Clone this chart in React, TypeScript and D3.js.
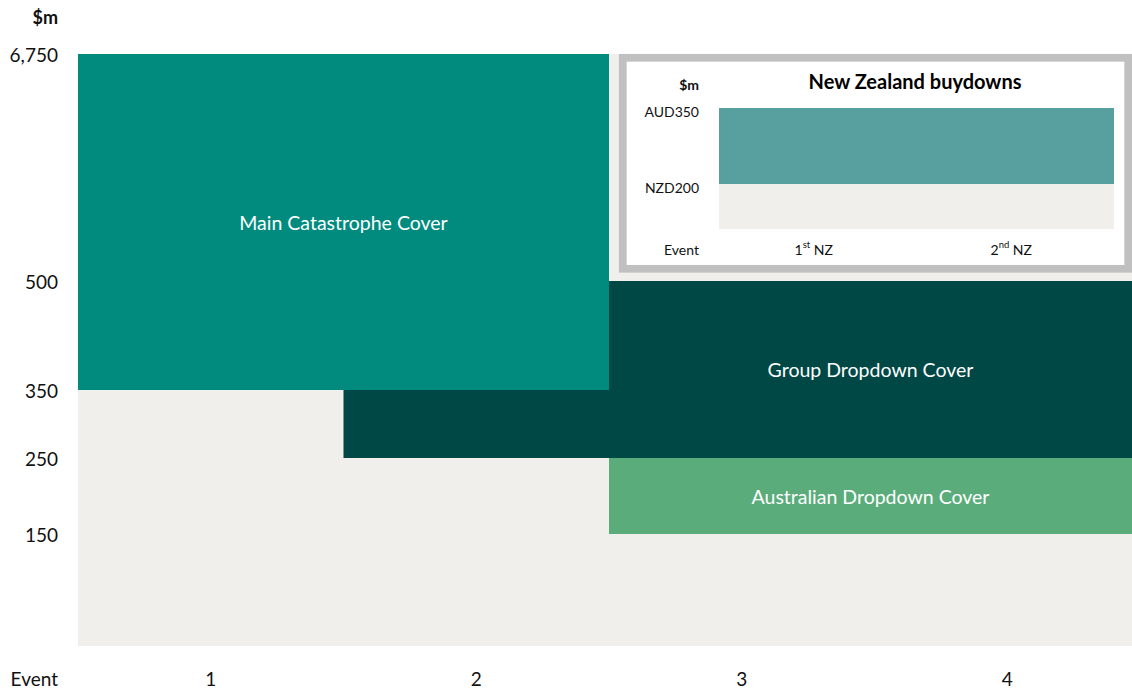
import React from "react";
import * as d3 from "d3";

// ---- Data ----
const events = ["1", "2", "3", "4"];
const yTickValues = [150, 250, 350, 500, 6750];
const yDomainBreaks = [0, 150, 250, 350, 500, 6750];

const layerNames = ["Group Dropdown Cover", "Main Catastrophe Cover", "Australian Dropdown Cover"];
const layerFromEvent = ["2", "1", "3"];
const layerToEvent = ["4", "2", "4"];
const layerAttach = [250, 350, 150];
const layerExhaust = [500, 6750, 250];
const layerLabelFrom = ["3", "1", "3"];
const layerLabelAttach = [250, 350, 150];

const nzTitle = "New Zealand buydowns";
const nzEvents = [
  { num: "1", sup: "st", rest: " NZ" },
  { num: "2", sup: "nd", rest: " NZ" },
];
const nzTickValues = [200, 350];
const nzTickLabels = ["NZD200", "AUD350"];
const nzBarAttach = 200;
const nzBarExhaust = 350;

// ---- Styles ----
const FONT = "Lato, 'Open Sans', sans-serif";
const colors: Record<string, string> = {
  "Main Catastrophe Cover": "#008b7e",
  "Group Dropdown Cover": "#004845",
  "Australian Dropdown Cover": "#5aad7b",
};
const BG = "#f0efeb";

export default function App() {
  const W = 1132;
  const H = 692;
  const x = d3.scaleBand<string>().domain(events).range([78, 1140]).padding(0);
  const y = d3.scaleLinear().domain(yDomainBreaks).range([646, 534, 458, 390, 281, 54]);

  // inset
  const ix = d3.scaleBand<string>().domain(nzEvents.map((d) => d.num)).range([719, 1114]);
  const iy = d3.scaleLinear().domain([0, 200, 350]).range([229, 184, 108]);

  return (
    <div style={{ position: "absolute", left: 0, top: 0 }}>
      <svg width={W} height={H} style={{ display: "block", fontFamily: FONT }}>
        <rect x={0} y={0} width={W} height={H} fill="#fff" />
        {/* plot background */}
        <rect x={x(events[0])!} y={y(6750)} width={1132 - x(events[0])!} height={y(0) - y(6750)} fill={BG} />
        {layerNames.map((name, i) => {
          const x0 = x(layerFromEvent[i])!;
          const x1 = x(layerToEvent[i])! + x.bandwidth();
          return (
            <rect key={name} x={x0} y={y(layerExhaust[i])} width={x1 - x0} height={y(layerAttach[i]) - y(layerExhaust[i])} fill={colors[name]} />
          );
        })}
        {layerNames.map((name, i) => {
          const x0 = x(layerLabelFrom[i])!;
          const x1 = Math.min(1132, x(layerToEvent[i])! + x.bandwidth());
          const cy = (y(layerLabelAttach[i]) + y(layerExhaust[i])) / 2;
          return (
            <text key={name + "l"} x={(x0 + x1) / 2} y={cy} textAnchor="middle" dominantBaseline="central" fill="#fff" fontSize={19.5}>
              {name}
            </text>
          );
        })}
        {/* y axis */}
        <text x={58} y={17} textAnchor="end" dominantBaseline="central" fontWeight="bold" fontSize={18} fill="#111">$m</text>
        {yTickValues.map((v) => (
          <text key={v} x={58} y={y(v)} textAnchor="end" dominantBaseline="central" fontSize={19} fill="#111">
            {d3.format(",")(v)}
          </text>
        ))}
        {/* x axis */}
        <text x={58} y={678} textAnchor="end" dominantBaseline="central" fontSize={19} fill="#111">Event</text>
        {events.map((e) => (
          <text key={e} x={x(e)! + x.bandwidth() / 2} y={678} textAnchor="middle" dominantBaseline="central" fontSize={19} fill="#111">
            {e}
          </text>
        ))}

        {/* inset */}
        <rect x={622.8} y={57.8} width={505.4} height={211} fill="#fff" stroke="#c0c0c0" strokeWidth={7.7} />
        <text x={915} y={81} textAnchor="middle" dominantBaseline="central" fontWeight="bold" fontSize={20} fill="#000">{nzTitle}</text>
        <text x={699} y={84} textAnchor="end" dominantBaseline="central" fontWeight="bold" fontSize={14} fill="#111">$m</text>
        <rect x={ix(nzEvents[0].num)!} y={iy(nzBarExhaust)} width={ix.range()[1] - ix.range()[0]} height={iy(0) - iy(nzBarExhaust)} fill={BG} />
        <rect x={ix(nzEvents[0].num)!} y={iy(nzBarExhaust)} width={ix.range()[1] - ix.range()[0]} height={iy(nzBarAttach) - iy(nzBarExhaust)} fill="#589f9f" />
        {nzTickValues.map((v, i) => (
          <text key={v} x={699} y={iy(v) + 3} textAnchor="end" dominantBaseline="central" fontSize={14} fill="#111">
            {nzTickLabels[i]}
          </text>
        ))}
        <text x={699} y={249} textAnchor="end" dominantBaseline="central" fontSize={14} fill="#111">Event</text>
        {nzEvents.map((e) => (
          <text key={e.num} x={ix(e.num)! + ix.bandwidth() / 2 - 4} y={249} textAnchor="middle" dominantBaseline="central" fontSize={14} fill="#111">
            {e.num}
            <tspan fontSize={9.5} dy={-5}>{e.sup}</tspan>
            <tspan dy={5}>{e.rest}</tspan>
          </text>
        ))}
      </svg>
    </div>
  );
}
